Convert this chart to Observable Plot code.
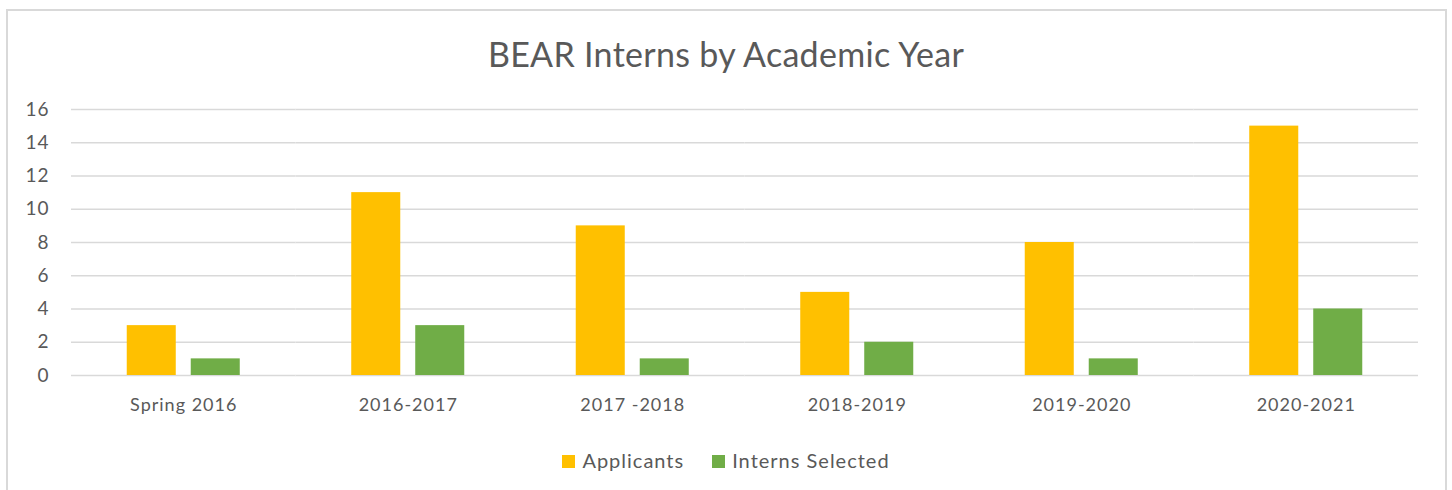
<!DOCTYPE html>
<html><head><meta charset="utf-8">
<script src="https://cdn.jsdelivr.net/npm/d3@7"></script>
<script src="https://cdn.jsdelivr.net/npm/@observablehq/plot@0.6"></script>
<style>
html,body{margin:0;padding:0;background:#fff;width:1452px;height:490px;overflow:hidden;font-family:Lato,"Open Sans",sans-serif;}
#frame{position:absolute;left:6px;top:9px;width:1441px;height:500px;border:2px solid #d9d9d9;box-sizing:border-box;}
#title{position:absolute;left:0;top:33px;width:1452px;text-align:center;font-size:34px;color:#595959;letter-spacing:0.3px;}
#chart{position:absolute;left:0;top:0;}
#chart svg text{letter-spacing:1px;}
#legend{position:absolute;left:0;top:448px;width:1452px;text-align:center;font-size:20px;color:#595959;letter-spacing:1px;}
.sw{display:inline-block;width:13px;height:13px;margin-right:7px;vertical-align:0px;}
.item{display:inline-block;margin:0 14px;}
</style></head>
<body>
<div id="frame"></div>
<div id="chart"></div>
<div id="title">BEAR Interns by Academic Year</div>
<div id="legend"></div>
<script>
const categories = ["Spring 2016","2016-2017","2017 -2018","2018-2019","2019-2020","2020-2021"];
const seriesNames = ["Applicants","Interns Selected"];
const applicants = [3,11,9,5,8,15];
const internsSelected = [1,3,1,2,1,4];
const colors = ["#ffc000","#70ad47"];
const yTicks = [0,2,4,6,8,10,12,14,16];

const data = [];
categories.forEach((c,i)=>{
  data.push({cat:c, series:seriesNames[0], value:applicants[i]});
  data.push({cat:c, series:seriesNames[1], value:internsSelected[i]});
});

const plot = Plot.plot({
  width:1452, height:430,
  marginLeft:71, marginRight:34, marginTop:109, marginBottom:55,
  style:{fontFamily:"Lato, 'Open Sans', sans-serif", fontSize:"18px", color:"#595959", background:"transparent"},
  fx:{domain:categories, padding:0, round:false, label:null, axis:null},
  x:{domain:seriesNames, paddingInner:0.234, paddingOuter:0.871, round:false, axis:null},
  y:{domain:[0,16], label:null, axis:null},
  color:{domain:seriesNames, range:colors},
  marks:[
    Plot.gridY(yTicks,{stroke:"#d9d9d9", strokeOpacity:1, strokeWidth:1.5}),
    Plot.barY(data,{fx:"cat", x:"series", y:"value", fill:"series"}),
    Plot.axisFx({anchor:"bottom", tickSize:0, tickPadding:23, fontSize:18, fill:"#595959", label:null}),
    Plot.axisY(yTicks,{tickSize:0, tickPadding:22, fontSize:19, fill:"#595959", label:null, anchor:"left"})
  ]
});
document.getElementById("chart").appendChild(plot);

const lg = document.getElementById("legend");
seriesNames.forEach((s,i)=>{
  const it = document.createElement("span");
  it.className="item";
  it.innerHTML = `<span class="sw" style="background:${colors[i]}"></span>${s}`;
  lg.appendChild(it);
});
</script>
</body></html>
